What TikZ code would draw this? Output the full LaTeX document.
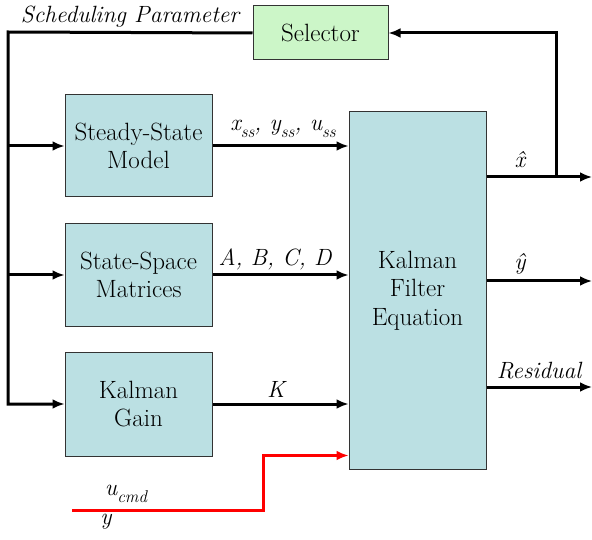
\documentclass[tikz,border=0pt]{standalone}
\usetikzlibrary{arrows.meta}
\definecolor{azulcaja}{RGB}{187,224,227}
\definecolor{verdecaja}{RGB}{204,246,200}
\newcommand{\subind}[1]{\raisebox{-0.28em}{\fontsize{17}{17}\selectfont #1}}
\begin{document}
\begin{tikzpicture}[x=1pt, y=-1pt,
        caja/.style={draw=black!80, line width=1pt, align=center, fill=azulcaja, inner sep=0pt, font=\fontsize{25}{28.5}\selectfont},
        flecha/.style={-{Latex[length=12pt,width=10pt]}, line width=3pt},
        roja/.style={flecha, red},
        etiqueta/.style={inner sep=0pt, font=\fontsize{23.5}{28}\selectfont\itshape}]
        \useasboundingbox (0,0) rectangle (592,540);
        \node[caja, fill=verdecaja, minimum width=135pt, minimum height=54pt] (sel) at (320.5,33) {Selector};
        \node[caja, minimum width=147pt, minimum height=102pt] (ssm) at (138.5,146) {Steady-State\\ Model};
        \node[caja, minimum width=147pt, minimum height=102pt] (ssmat) at (138.5,275) {State-Space\\ Matrices};
        \node[caja, minimum width=147pt, minimum height=104pt] (gain) at (138.5,404) {Kalman\\ Gain};
        \node[caja, minimum width=137pt, minimum height=357pt] (kf) at (417.5,290.5) {Kalman\\ Filter\\ Equation};
        % bus del parametro de programacion
        \coordinate (bus) at (8,32);
        \draw[flecha] (sel.west) -- (bus) |- (gain.west);
        \draw[flecha] (bus |- ssm.west) -- (ssm.west);
        \draw[flecha] (bus |- ssmat.west) -- (ssmat.west);
        % entradas al filtro
        \draw[flecha] (ssm.east) -- (kf.west |- ssm.east);
        \draw[flecha] (ssmat.east) -- (kf.west |- ssmat.east);
        \draw[flecha] (gain.east) -- (kf.west |- gain.east);
        \coordinate (uentrada) at (72,510);
        \coordinate (uesquina) at (263,510);
        \draw[roja] (uentrada) -- (uesquina) |- ([yshift=14pt]kf.south west);
        % salidas
        \coordinate (xsal) at (592,177);
        \coordinate (ysal) at (592,281);
        \coordinate (rsal) at (592,387);
        \coordinate (rama) at (556,177);
        \draw[flecha] (kf.east |- xsal) -- (xsal);
        \draw[flecha] (kf.east |- ysal) -- (ysal);
        \draw[flecha] (kf.east |- rsal) -- (rsal);
        \draw[flecha] (rama) |- (sel.east);
        % etiquetas
        \node[etiqueta] (lsched) at (130,17) {Scheduling Parameter};
        \node[etiqueta] (lxss) at (283,129) {x\subind{ss}, y\subind{ss}, u\subind{ss}};
        \node[etiqueta] (labcd) at (275,259) {A, B, C, D};
        \node[etiqueta] (lk) at (276,389) {K};
        \node[etiqueta] (lxhat) at (520,160) {\^x};
        \node[etiqueta] (lyhat) at (520,264) {\^y};
        \node[etiqueta] (lres) at (539,371) {Residual};
        \node[etiqueta] (lu) at (126,494) {u\subind{cmd}};
        \node[etiqueta] (ly) at (106,522) {y};
\end{tikzpicture}
\end{document}
